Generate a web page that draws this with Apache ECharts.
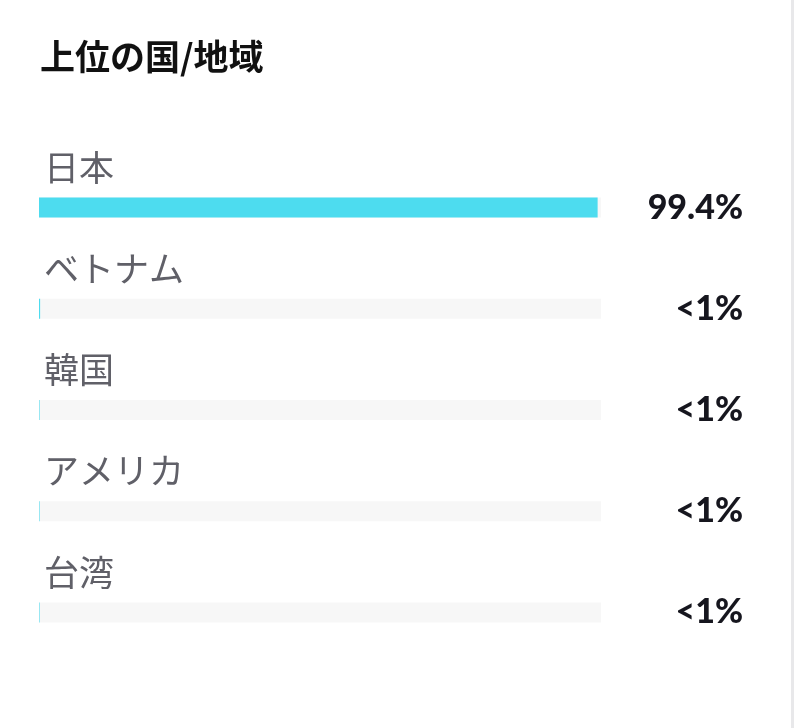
<!DOCTYPE html>
<html>
<head>
<meta charset="utf-8">
<script src="https://cdn.jsdelivr.net/npm/echarts@6/dist/echarts.min.js"></script>
<style>
	html, body { margin: 0; padding: 0; background: #fff; }
	#chart { width: 800px; height: 728px; }
</style>
</head>
<body>
<div id="chart"></div>
<script>
"use strict";

/*****Data*****/
var titleText = '上位の国/地域';
var countries = ['日本', 'ベトナム', '韓国', 'アメリカ', '台湾'];
var shares = [99.4, 0.2, 0.1, 0.1, 0.1];

var shareText = function (v) {
	return v < 1 ? '<1%' : v.toFixed(1) + '%';
};
var shareLabels = shares.map(shareText);

/*****Chart*****/
var chart = echarts.init(document.getElementById('chart'));
var option = {
	animation: false,
	title: {
		text: titleText,
		left: 35,
		top: 34,
		textStyle: {
			color: '#111111',
			fontSize: 35,
			fontWeight: 'bold',
			fontFamily: "'Noto Sans CJK JP', sans-serif"
		}
	},
	graphic: [{
		type: 'rect',
		shape: { x: 791, y: 0, width: 3, height: 728 },
		style: { fill: '#e8e8ea' }
	}],
	grid: {
		left: 39,
		right: 199,
		top: 157,
		height: 506
	},
	xAxis: {
		type: 'value',
		min: 0,
		max: 100,
		show: false
	},
	yAxis: [{
		type: 'category',
		inverse: true,
		data: countries,
		axisLine: { show: false },
		axisTick: { show: false },
		axisLabel: { show: false }
	}, {
		type: 'category',
		inverse: true,
		position: 'right',
		data: shareLabels,
		axisLine: { show: false },
		axisTick: { show: false },
		axisLabel: {
			margin: 142,
			align: 'right',
			color: '#16161e',
			fontSize: 34,
			fontWeight: 900,
			fontFamily: "Lato, 'Open Sans', sans-serif"
		}
	}],
	series: [{
		type: 'bar',
		data: shares,
		barWidth: 20,
		itemStyle: { color: '#4ddcef' },
		showBackground: true,
		backgroundStyle: { color: '#f7f7f7' },
		label: {
			show: true,
			position: [5, -30],
			align: 'left',
			verticalAlign: 'middle',
			formatter: function (p) { return p.name; },
			color: '#606068',
			fontSize: 35,
			fontFamily: "'Noto Sans CJK JP', sans-serif"
		}
	}]
};
chart.setOption(option);
</script>
</body>
</html>
